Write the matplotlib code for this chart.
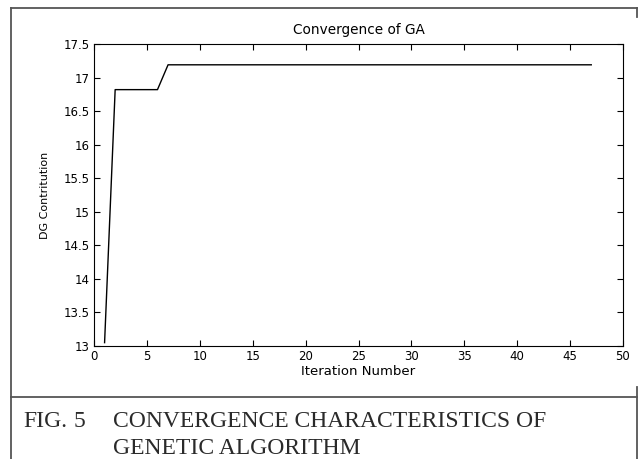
# -*- coding: utf-8 -*-
from matplotlib import pyplot as plt
from matplotlib.lines import Line2D

# GA convergence: best DG contribution per iteration
iteraciones = list(range(1, 48))
valores = [13.05] + [16.82] * 5 + [17.19] * 41

x_ticks = [0, 5, 10, 15, 20, 25, 30, 35, 40, 45, 50]
y_ticks = [13, 13.5, 14, 14.5, 15, 15.5, 16, 16.5, 17, 17.5]

W, H = 640, 459
fig = plt.figure(figsize=(W / 100, H / 100), dpi=100)

def px(x0, y0, x1, y1):
    # helper: a frame line given in pixel coords
    fig.add_artist(Line2D([x0 / W, x1 / W], [1 - y0 / H, 1 - y1 / H],
                          color='#555555', lw=1.3, transform=fig.transFigure))

#MARCO
px(11, 8, 637, 8)
px(637, 8, 637, 17)
px(11, 8, 11, 459)
px(11, 397, 637, 397)
px(637, 387, 637, 459)

ax = fig.add_axes([94 / W, 1 - 346 / H, (623 - 94) / W, (346 - 44) / H])
ax.plot(iteraciones, valores, color='black', lw=1.0)
ax.set_xlim(0, 50)
ax.set_ylim(13, 17.5)
ax.set_xticks(x_ticks)
ax.set_yticks(y_ticks)
ax.set_yticklabels([('%g' % v) for v in y_ticks])
ax.tick_params(direction='in', top=True, right=True, length=4, width=0.8,
               labelsize=8.5, pad=3)
for s in ax.spines.values():
    s.set_linewidth(0.8)
ax.set_title('Convergence of GA', fontsize=9.8, pad=7)
ax.set_xlabel('Iteration Number', fontsize=9.5, labelpad=1)
ax.set_ylabel('DG Contritution', fontsize=8, labelpad=10)

#LEYENDA DE LA FIGURA
cap = dict(family='Liberation Serif', fontsize=17, color='#2a2a2a', va='baseline')
fig.text(23 / W, 1 - 427 / H, 'FIG.', **cap)
fig.text(74 / W, 1 - 427 / H, '5', **cap)
fig.text(113 / W, 1 - 427 / H, 'CONVERGENCE CHARACTERISTICS OF', **cap)
fig.text(113 / W, 1 - 454 / H, 'GENETIC ALGORITHM', **cap)

plt.savefig('out.png', dpi=100)
